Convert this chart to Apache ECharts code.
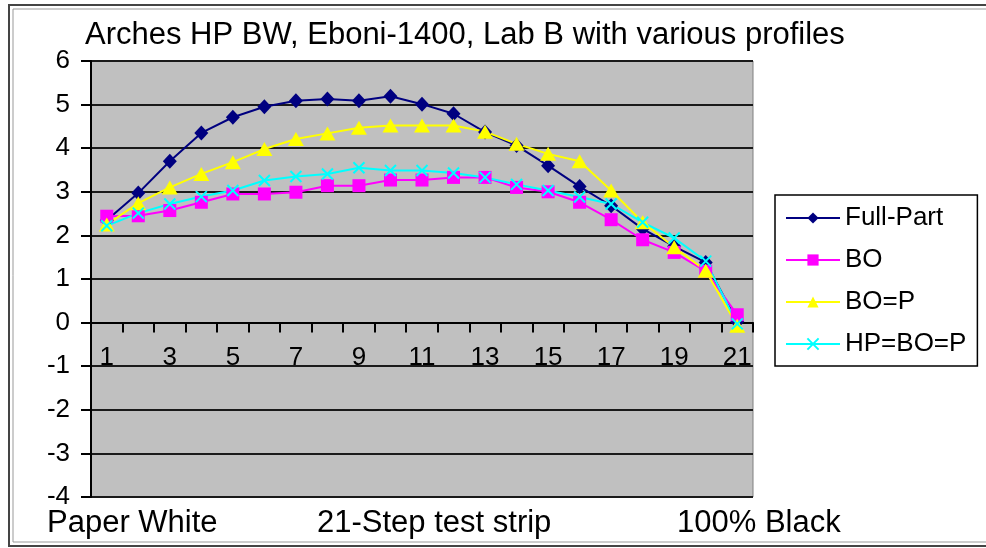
<!DOCTYPE html>
<html>
<head>
<meta charset="utf-8">
<script src="https://cdn.jsdelivr.net/npm/echarts@6/dist/echarts.min.js"></script>
<style>
html,body{margin:0;padding:0;background:#fff;}
#chart{width:986px;height:548px;}
</style>
</head>
<body>
<div id="chart"></div>
<script>
const categories = ['1','2','3','4','5','6','7','8','9','10','11','12','13','14','15','16','17','18','19','20','21'];
const fullPart = [2.35, 2.97, 3.70, 4.35, 4.71, 4.95, 5.09, 5.13, 5.09, 5.19, 5.01, 4.79, 4.37, 4.06, 3.60, 3.12, 2.68, 2.15, 1.75, 1.38, 0.02];
const bo       = [2.44, 2.45, 2.57, 2.76, 2.95, 2.95, 2.99, 3.14, 3.14, 3.27, 3.27, 3.33, 3.33, 3.10, 3.00, 2.76, 2.36, 1.90, 1.61, 1.18, 0.18];
const boP      = [2.25, 2.74, 3.10, 3.41, 3.68, 3.98, 4.21, 4.34, 4.47, 4.52, 4.52, 4.52, 4.38, 4.10, 3.87, 3.70, 3.03, 2.30, 1.73, 1.19, -0.07];
const hpBoP    = [2.22, 2.51, 2.72, 2.89, 3.03, 3.26, 3.35, 3.41, 3.55, 3.49, 3.49, 3.43, 3.33, 3.17, 3.03, 2.88, 2.72, 2.30, 1.94, 1.41, -0.03];
const seriesNames = ['Full-Part', 'BO', 'BO=P', 'HP=BO=P'];
const yMin = -4, yMax = 6, yStep = 1;
const titleText = 'Arches HP BW, Eboni-1400, Lab B with various profiles';
const bottomTexts = ['Paper White', '21-Step test strip', '100% Black'];

const FONT = '"Liberation Sans", Arial, sans-serif';
const GRID = {left: 91, top: 61, right: 233, bottom: 51};
const plotH = 548 - GRID.top - GRID.bottom;
// move the category axis (line, ticks, labels) up to the value 0
const zeroOffset = -plotH * (0 - yMin) / (yMax - yMin);

const chart = echarts.init(document.getElementById('chart'));
const xMarker = 'path://M0,0L10,10M10,0L0,10';

function mk(name, data, color, symbol, size, extra) {
  return Object.assign({
    name: name, type: 'line', data: data,
    symbol: symbol, symbolSize: size,
    lineStyle: {color: color, width: 2},
    itemStyle: {color: color},
    emphasis: {disabled: true},
    animation: false
  }, extra || {});
}

chart.setOption({
  animation: false,
  backgroundColor: '#ffffff',
  title: {
    text: titleText, left: 80, top: 15,
    textStyle: {fontFamily: FONT, fontSize: 31, fontWeight: 'normal', color: '#000'}
  },
  grid: Object.assign({show: true, backgroundColor: '#C0C0C0', borderColor: '#808080', borderWidth: 1}, GRID),
  legend: {
    orient: 'vertical', left: 775, top: 195,
    padding: [9, 11, 8, 10],
    itemWidth: 54, itemHeight: 14, itemGap: 14,
    borderColor: '#000', borderWidth: 1.5,
    backgroundColor: '#fff',
    textStyle: {fontFamily: FONT, fontSize: 26, color: '#000', lineHeight: 28},
    data: seriesNames
  },
  xAxis: {
    type: 'category', data: categories, boundaryGap: true,
    offset: zeroOffset,
    axisLine: {onZero: false, lineStyle: {color: '#000', width: 2}},
    axisTick: {show: true, interval: 0, length: 10, lineStyle: {color: '#000', width: 2}},
    axisLabel: {interval: 1, margin: 22, fontFamily: FONT, fontSize: 26, color: '#000'},
    splitLine: {show: false}
  },
  yAxis: {
    type: 'value', min: yMin, max: yMax, interval: yStep,
    axisLine: {show: true, lineStyle: {color: '#000', width: 2}},
    axisTick: {show: true, length: 10, lineStyle: {color: '#000', width: 2}},
    axisLabel: {margin: 21, fontFamily: FONT, fontSize: 26, color: '#000'},
    splitLine: {show: true, lineStyle: {color: '#1a1a1a', width: 2}}
  },
  series: [
    mk(seriesNames[0], fullPart, '#000080', 'diamond', [14, 15]),
    mk(seriesNames[1], bo, '#FF00FF', 'rect', 13),
    mk(seriesNames[2], boP, '#FFFF00', 'triangle', [16, 14]),
    mk(seriesNames[3], hpBoP, '#00FFFF', xMarker, 11, {itemStyle: {color: '#00FFFF', borderColor: '#00FFFF', borderWidth: 2}})
  ],
  graphic: [
    {type: 'rect', shape: {x: 9, y: 5, width: 1000, height: 541}, style: {fill: 'none', stroke: '#444', lineWidth: 2}, silent: true},
    {type: 'rect', shape: {x: 13, y: 9, width: 1000, height: 533}, style: {fill: 'none', stroke: '#999', lineWidth: 1}, silent: true},
    {type: 'text', left: 47, top: 508, style: {text: bottomTexts[0], font: '31px ' + FONT, fill: '#000'}},
    {type: 'text', left: 317, top: 508, style: {text: bottomTexts[1], font: '31px ' + FONT, fill: '#000'}},
    {type: 'text', left: 677, top: 508, style: {text: bottomTexts[2], font: '31px ' + FONT, fill: '#000'}}
  ]
});
</script>
</body>
</html>
